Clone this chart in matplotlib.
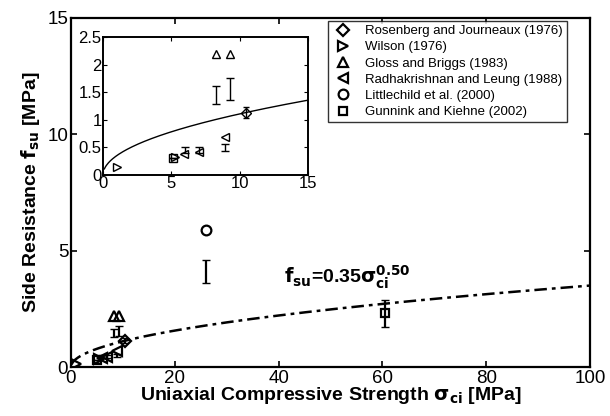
import numpy as np
import matplotlib
matplotlib.use("Agg")
import matplotlib.pyplot as plt

plt.rcParams['font.family'] = ['Liberation Sans', 'DejaVu Sans']

# data
ros_x, ros_y, ros_e = [10.5], [1.13], [0.1]
wil_x, wil_y = [1.0, 5.3], [0.15, 0.33]
glo_x, glo_y = [8.3, 9.3], [2.2, 2.2]
rad_x, rad_y = [5.9, 7.0, 8.9], [0.38, 0.42, 0.68]
lit_x, lit_y = [26.0], [5.9]
gun_x, gun_y, gun_e = [5.1, 60.5], [0.3, 2.3], [0.0, 0.6]
bar_x = [8.3, 9.3, 26.0, 8.9, 6.0, 7.0]
bar_y = [1.45, 1.55, 4.1, 0.5, 0.45, 0.45]
bar_e = [0.17, 0.2, 0.5, 0.06, 0.05, 0.05]

coef, expo = 0.35, 0.50
labels = ["Rosenberg and Journeaux (1976)", "Wilson (1976)", "Gloss and Briggs (1983)",
          "Radhakrishnan and Leung (1988)", "Littlechild et al. (2000)",
          "Gunnink and Kiehne (2002)"]


def draw(ax, ms, lw):
    h = []
    h += ax.plot(ros_x, ros_y, 'kD', mfc='none', ms=ms * 0.85, mew=lw)
    ax.errorbar(ros_x, ros_y, yerr=ros_e, fmt='none', ecolor='k', capsize=2, lw=lw)
    h += ax.plot(wil_x, wil_y, 'k>', mfc='none', ms=ms, mew=lw)
    h += ax.plot(glo_x, glo_y, 'k^', mfc='none', ms=ms, mew=lw)
    h += ax.plot(rad_x, rad_y, 'k<', mfc='none', ms=ms, mew=lw)
    h += ax.plot(lit_x, lit_y, 'ko', mfc='none', ms=ms, mew=lw)
    h += ax.plot(gun_x, gun_y, 'ks', mfc='none', ms=ms * 0.85, mew=lw)
    ax.errorbar(gun_x, gun_y, yerr=gun_e, fmt='none', ecolor='k', capsize=3, lw=lw)
    ax.errorbar(bar_x, bar_y, yerr=bar_e, fmt='none', ecolor='k', capsize=3, lw=lw)
    return h


fig = plt.figure(figsize=(6.1, 4.16), dpi=100)
ax = fig.add_axes([71 / 610, 1 - 367 / 416, (590 - 71) / 610, (367 - 18) / 416])

xs = np.linspace(0.1, 100, 400)
ax.plot(xs, coef * xs ** expo, 'k-.', lw=1.8, dashes=(5, 2, 1.5, 2))
h = draw(ax, 7, 1.6)
ax.set_xlim(0, 100)
ax.set_ylim(0, 15)
ax.set_xticks([0, 20, 40, 60, 80, 100])
ax.set_yticks([0, 5, 10, 15])
ax.tick_params(direction='in', top=True, right=True, labelsize=13.5, length=4, width=1.2, pad=2)
for s in ax.spines.values():
    s.set_linewidth(1.6)
ax.set_xlabel(r"Uniaxial Compressive Strength $\mathbf{\sigma_{ci}}$ [MPa]",
              fontsize=14, fontweight='bold', labelpad=-1)
ax.set_ylabel(r"Side Resistance $\mathbf{f_{su}}$ [MPa]",
              fontsize=14, fontweight='bold', labelpad=4)
ax.text(41, 3.6, r"$\mathbf{f_{su}}$=0.35$\mathbf{\sigma_{ci}^{0.50}}$",
        fontsize=14, fontweight='bold')

leg = fig.legend(h, labels, loc='upper left', bbox_to_anchor=(328 / 610, 1 - 21 / 416),
                 fontsize=9.5, frameon=True, fancybox=False, edgecolor='k',
                 handlelength=1.6, handletextpad=0.9, borderpad=0.3, labelspacing=0.3,
                 borderaxespad=0)
leg.get_frame().set_linewidth(1.0)

ins = fig.add_axes([103 / 610, 1 - 175 / 416, (308 - 103) / 610, (175 - 37) / 416])
xi = np.linspace(0.1, 15, 200)
ins.plot(xi, coef * xi ** expo, 'k-', lw=1.0)
draw(ins, 6, 1.0)
ins.set_xlim(0, 15)
ins.set_ylim(0, 2.5)
ins.set_xticks([0, 5, 10, 15])
ins.set_yticks([0, 0.5, 1, 1.5, 2, 2.5])
ins.set_yticklabels(['0', '0.5', '1', '1.5', '2', '2.5'])
ins.tick_params(direction='in', top=True, right=True, labelsize=12, length=3, pad=1)
for s in ins.spines.values():
    s.set_linewidth(1.4)

fig.savefig("out.png", dpi=100)
